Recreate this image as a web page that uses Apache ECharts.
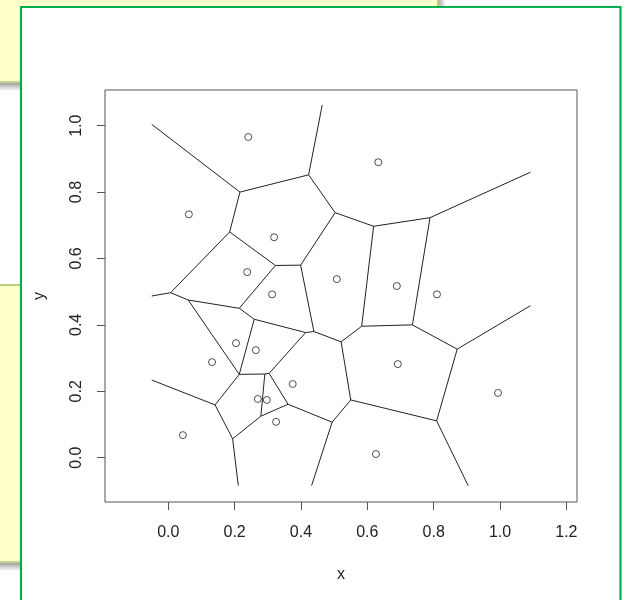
<!DOCTYPE html>
<html>
<head>
<meta charset="utf-8">
<script src="https://cdn.jsdelivr.net/npm/echarts@6/dist/echarts.min.js"></script>
<style>
html,body{margin:0;padding:0;background:#fff;}
#chart{width:627px;height:600px;}
</style>
</head>
<body>
<div id="chart"></div>
<script>
// Generator points (x, y)
var pointsX = [0.241, 0.633, 0.062, 0.319, 0.238, 0.508, 0.689, 0.313, 0.810, 0.204,
               0.264, 0.132, 0.692, 0.375, 0.270, 0.297, 0.994, 0.325, 0.044, 0.626];
var pointsY = [0.966, 0.890, 0.733, 0.664, 0.559, 0.538, 0.517, 0.492, 0.492, 0.345,
               0.324, 0.288, 0.282, 0.222, 0.177, 0.174, 0.195, 0.108, 0.068, 0.011];

// Voronoi vertices (x, y)
var vertexNames = ['TL','A','B','TOP','C','D','E','F','G','H','RU','I','J','L','RL','M','L1','N','O','P','Q','K','R','S','T','V','U','W','X','Y','YB','Z','ZB','AA','AAB','BB','L2'];
var vertexX = [-0.050, 0.216, 0.423, 0.464, 0.185, 0.323, 0.399, 0.503, 0.619, 0.789, 1.092, 0.583, 0.736, 0.871, 1.092, 0.007, -0.050, 0.060, 0.214, 0.259, 0.414, 0.439, 0.521, 0.550, 0.304, 0.291, 0.214, 0.279, 0.361, 0.494, 0.432, 0.809, 0.904, 0.194, 0.211, 0.141, -0.050];
var vertexY = [1.004, 0.800, 0.852, 1.062, 0.680, 0.579, 0.580, 0.738, 0.697, 0.723, 0.860, 0.396, 0.400, 0.327, 0.458, 0.497, 0.487, 0.475, 0.450, 0.417, 0.377, 0.380, 0.349, 0.174, 0.254, 0.252, 0.251, 0.125, 0.161, 0.107, -0.084, 0.111, -0.084, 0.057, -0.084, 0.159, 0.234];

// Voronoi edges (pairs of vertex names)
var edgeFrom = ['TL','A','B','A','C','D','B','E','F','G','H','G','H','I','J','L','C','M','M','N','D','O','P','Q','E','K','R','R','Q','P','N','U','V','V','T','W','X','Y','Y','S','Z','Z','W','AA','BB','BB','AA'];
var edgeTo   = ['A','B','TOP','C','D','E','F','F','G','H','RU','I','J','J','L','RL','M','L1','N','O','O','P','Q','K','K','R','I','S','T','U','U','V','T','W','X','X','Y','S','YB','Z','L','ZB','AA','BB','U','L2','AAB'];

// Tick labels
var xTicks = [0.0, 0.2, 0.4, 0.6, 0.8, 1.0, 1.2];
var yTicks = [0.0, 0.2, 0.4, 0.6, 0.8, 1.0];

function vtx(name){ var i = vertexNames.indexOf(name); return [vertexX[i], vertexY[i]]; }
var edgeData = edgeFrom.map(function(f, i){ return { coords: [vtx(f), vtx(edgeTo[i])] }; });
var pointData = pointsX.map(function(x, i){ return [x, pointsY[i]]; });

var chart = echarts.init(document.getElementById('chart'), null, {renderer:'canvas'});
var FONT = 'Liberation Sans, Arial, sans-serif';
var option = {
  backgroundColor: '#ffffff',
  animation: false,
  graphic: [
    // top-left yellow note
    {type:'rect', z:-100, shape:{x:0,y:0,width:438,height:81}, style:{fill:'#ffffcc'}},
    {type:'rect', z:-99, shape:{x:437,y:0,width:2,height:83}, style:{fill:'#b9cf78'}},
    {type:'rect', z:-99, shape:{x:0,y:81,width:439,height:2}, style:{fill:'#c3d690'}},
    {type:'rect', z:-99, shape:{x:439,y:0,width:7,height:90}, style:{fill:{type:'linear',x:0,y:0,x2:1,y2:0,colorStops:[{offset:0,color:'#b0b0b0'},{offset:1,color:'#ffffff'}]}}},
    {type:'rect', z:-99, shape:{x:0,y:83,width:446,height:8}, style:{fill:{type:'linear',x:0,y:0,x2:0,y2:1,colorStops:[{offset:0,color:'#a0a0a0'},{offset:1,color:'#ffffff'}]}}},
    // lower-left yellow note
    {type:'rect', z:-100, shape:{x:0,y:284,width:30,height:277}, style:{fill:'#ffffcc'}},
    {type:'rect', z:-99, shape:{x:0,y:284,width:30,height:2}, style:{fill:'#b9cf78'}},
    {type:'rect', z:-99, shape:{x:0,y:561,width:30,height:2}, style:{fill:'#c3d690'}},
    {type:'rect', z:-99, shape:{x:0,y:563,width:30,height:8}, style:{fill:{type:'linear',x:0,y:0,x2:0,y2:1,colorStops:[{offset:0,color:'#a0a0a0'},{offset:1,color:'#ffffff'}]}}},
    // green-framed white panel
    {type:'rect', z:-90, shape:{x:21,y:7,width:599.5,height:600}, style:{fill:'#ffffff', stroke:'#00b050', lineWidth:2.2}}
  ],
  grid: {left:105, top:90, width:472, height:412, show:true, borderColor:'#555555', borderWidth:1, backgroundColor:'transparent'},
  xAxis: {
    type:'value', min:-0.1908, max:1.2321,
    name:'x', nameLocation:'middle', nameGap:65,
    nameTextStyle:{fontFamily:FONT, fontSize:16, color:'#222'},
    axisLine:{show:false, onZero:false},
    splitLine:{show:false},
    axisTick:{show:true, inside:false, length:8, customValues:xTicks, lineStyle:{color:'#555'}},
    axisLabel:{show:true, customValues:xTicks, margin:23, fontFamily:FONT, fontSize:16, color:'#222',
      formatter:function(v){ return v.toFixed(1); }}
  },
  yAxis: {
    type:'value', min:-0.1334, max:1.1075,
    name:'y', nameLocation:'middle', nameGap:57, nameRotate:90,
    nameTextStyle:{fontFamily:FONT, fontSize:16, color:'#222'},
    axisLine:{show:false, onZero:false},
    splitLine:{show:false},
    axisTick:{show:true, inside:false, length:8, customValues:yTicks, lineStyle:{color:'#555'}},
    axisLabel:{show:true, customValues:yTicks, margin:20, rotate:90, fontFamily:FONT, fontSize:16, color:'#222',
      formatter:function(v){ return v.toFixed(1); }}
  },
  series: [
    {type:'lines', coordinateSystem:'cartesian2d', polyline:false, silent:true,
     lineStyle:{color:'#222222', width:1, opacity:1, curveness:0},
     data: edgeData},
    {type:'scatter', symbol:'circle', symbolSize:7, silent:true,
     itemStyle:{color:'rgba(255,255,255,0)', borderColor:'#222', borderWidth:1},
     data: pointData}
  ]
};
chart.setOption(option);
</script>
</body>
</html>
